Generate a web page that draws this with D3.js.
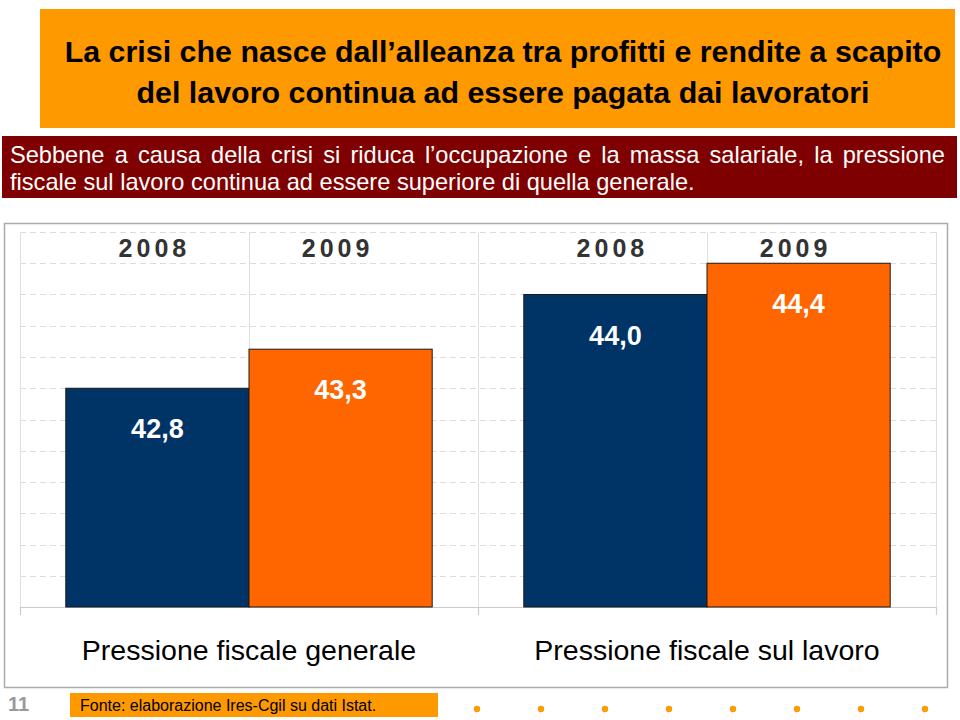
<!DOCTYPE html>
<html><head><meta charset="utf-8">
<script src="https://cdn.jsdelivr.net/npm/d3@7"></script>
<style>
html,body{margin:0;padding:0;background:#fff;}
svg{display:block;font-family:"Liberation Sans",Arial,Helvetica,sans-serif;}
</style></head>
<body><svg id="chart" width="960" height="720"></svg>
<script>
// ---- data ----
const groups = ["Pressione fiscale generale", "Pressione fiscale sul lavoro"];
const years = ["2008", "2009"];
const values2008 = [42.8, 44.0];
const values2009 = [43.3, 44.4];
const yDomain = [40, 44.8];
const gridStep = 0.4;
const titleLines = ["La crisi che nasce dall\u2019alleanza tra profitti e rendite a scapito",
                    "del lavoro continua ad essere pagata dai lavoratori"];
const subtitleLines = ["Sebbene a causa della crisi si riduca l\u2019occupazione e la massa salariale, la pressione",
                       "fiscale sul lavoro continua ad essere superiore di quella generale."];
const sourceText = "Fonte: elaborazione Ires-Cgil su dati Istat.";
const pageNumber = "11";

const seriesColors = {"2008": "#003366", "2009": "#FF6600"};
const rows = groups.map((g, i) => ({group: g, values: [
  {year: years[0], value: values2008[i]},
  {year: years[1], value: values2009[i]}]}));

const svg = d3.select("#chart");
const locale = d3.formatLocale({decimal: ",", thousands: ".", grouping: [3], currency: ["", "€"]});
const fmt = locale.format(".1f");

// ---- header ----
svg.append("rect").attr("x", 40).attr("y", 9).attr("width", 915).attr("height", 119).attr("fill", "#FF9900");
svg.append("g").selectAll("text").data(titleLines).join("text")
  .attr("x", 503).attr("y", (d, i) => 62 + i * 41)
  .attr("text-anchor", "middle").attr("font-weight", "bold").attr("font-size", 30.4).attr("fill", "#000")
  .text(d => d);

svg.append("rect").attr("x", 2).attr("y", 136).attr("width", 955).attr("height", 62).attr("fill", "#7F0000");
const sub = svg.append("g").selectAll("text").data(subtitleLines).join("text")
  .attr("x", 10).attr("y", (d, i) => 163 + i * 27)
  .attr("font-size", 23.6).attr("fill", "#fff")
  .text(d => d);
// justify first line
sub.filter((d, i) => i === 0).each(function(d) {
  const w = this.getComputedTextLength();
  const spaces = (d.match(/ /g) || []).length;
  const target = 935;
  if (spaces) d3.select(this).attr("word-spacing", (target - w) / spaces);
});

// ---- chart frame ----
svg.append("rect").attr("x", 4.5).attr("y", 223.5).attr("width", 943).attr("height", 464)
  .attr("fill", "#fff").attr("stroke", "#aaaaaa").attr("stroke-width", 1.5);

const plot = {left: 20, right: 936, top: 232, bottom: 607};
const y = d3.scaleLinear().domain(yDomain).range([plot.bottom, plot.top]);
const x0 = d3.scaleBand().domain(groups).range([plot.left, plot.right]).paddingInner(0).paddingOuter(0);
const x1 = d3.scaleBand().domain(years).range([0, x0.bandwidth()]).paddingInner(0).paddingOuter(0.25);

// gridlines
const gridVals = d3.range(yDomain[0] + gridStep, yDomain[1] + 1e-9, gridStep);
svg.append("g").selectAll("line").data(gridVals).join("line")
  .attr("x1", plot.left).attr("x2", plot.right)
  .attr("y1", d => Math.round(y(d)) + 0.5).attr("y2", d => Math.round(y(d)) + 0.5)
  .attr("stroke", "#dcdcdc").attr("stroke-width", 1).attr("stroke-dasharray", "6,4");

// vertical column separators
const vLines = [];
groups.forEach(g => { vLines.push(x0(g)); vLines.push(x0(g) + x0.bandwidth() / 2); });
vLines.push(plot.right);
svg.append("g").selectAll("line").data(vLines).join("line")
  .attr("x1", d => Math.round(d) + 0.5).attr("x2", d => Math.round(d) + 0.5)
  .attr("y1", plot.top).attr("y2", plot.bottom)
  .attr("stroke", "#e0e0e0").attr("stroke-width", 1);

// baseline axis with ticks at group boundaries
const axisTicks = groups.map(g => x0(g)).concat([plot.right]);
svg.append("line").attr("x1", plot.left).attr("x2", plot.right)
  .attr("y1", plot.bottom + 0.5).attr("y2", plot.bottom + 0.5)
  .attr("stroke", "#cccccc").attr("stroke-width", 1.2);
svg.append("g").selectAll("line").data(axisTicks).join("line")
  .attr("x1", d => Math.round(d) + 0.5).attr("x2", d => Math.round(d) + 0.5)
  .attr("y1", plot.bottom).attr("y2", plot.bottom + 8)
  .attr("stroke", "#cccccc").attr("stroke-width", 1.2);

// bars
const gGroups = svg.append("g").selectAll("g").data(rows).join("g")
  .attr("transform", d => `translate(${x0(d.group)},0)`);
gGroups.selectAll("rect").data(d => d.values).join("rect")
  .attr("x", d => x1(d.year)).attr("y", d => y(d.value))
  .attr("width", x1.bandwidth()).attr("height", d => y(yDomain[0]) - y(d.value))
  .attr("fill", d => seriesColors[d.year]).attr("stroke", "#1a1a1a").attr("stroke-width", 1);

// value labels
gGroups.selectAll("text.val").data(d => d.values).join("text").attr("class", "val")
  .attr("x", d => x1(d.year) + x1.bandwidth() / 2).attr("y", d => y(d.value) + 50)
  .attr("text-anchor", "middle").attr("font-weight", "bold").attr("font-size", 27).attr("fill", "#fff")
  .text(d => fmt(d.value));

// year labels at top
gGroups.selectAll("text.yr").data(d => d.values).join("text").attr("class", "yr")
  .attr("x", d => x1(d.year) + x1.bandwidth() / 2 - 3).attr("y", 257)
  .attr("text-anchor", "middle").attr("font-weight", "bold").attr("font-size", 25)
  .attr("letter-spacing", 4).attr("fill", "#333333")
  .text(d => d.year);

// category labels
svg.append("g").selectAll("text").data(groups).join("text")
  .attr("x", d => x0(d) + x0.bandwidth() / 2).attr("y", 660)
  .attr("text-anchor", "middle").attr("font-size", 28.5).attr("fill", "#000")
  .text(d => d);

// ---- footer ----
svg.append("text").attr("x", 8).attr("y", 711).attr("font-size", 20).attr("font-weight", "bold")
  .attr("fill", "#999999").text(pageNumber);
svg.append("rect").attr("x", 70).attr("y", 693).attr("width", 368).attr("height", 24).attr("fill", "#FF9900");
svg.append("text").attr("x", 80).attr("y", 711).attr("font-size", 16).attr("fill", "#000").text(sourceText);
svg.append("g").selectAll("circle").data(d3.range(8)).join("circle")
  .attr("cx", d => 477 + d * 64).attr("cy", 709).attr("r", 3.2).attr("fill", "#FF9900");
</script></body></html>
